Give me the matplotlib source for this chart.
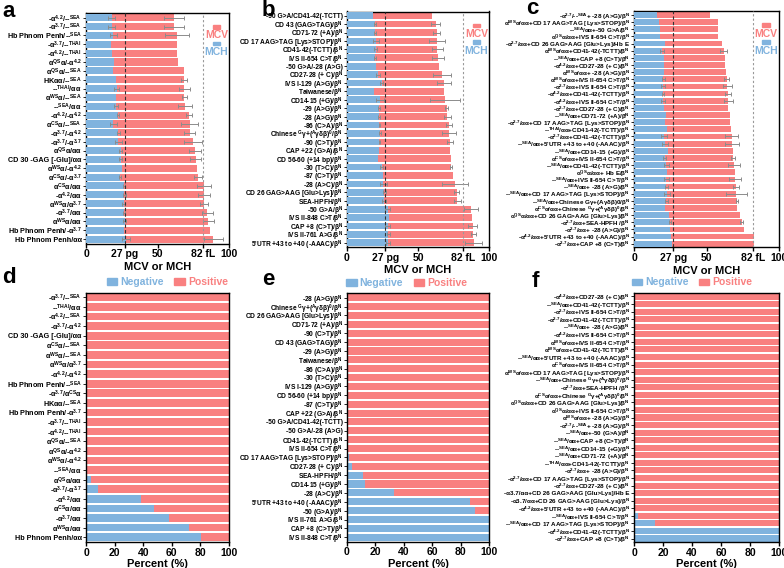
import re
import numpy as np
import matplotlib
matplotlib.use("Agg")
import matplotlib.pyplot as plt
from matplotlib.patches import Patch, Rectangle

plt.rcParams['font.family'] = ['Liberation Sans', 'DejaVu Sans']
plt.rcParams['font.weight'] = 'bold'
plt.rcParams['mathtext.fontset'] = 'custom'
plt.rcParams['mathtext.rm'] = 'Liberation Sans:bold'
plt.rcParams['mathtext.it'] = 'Liberation Sans:bold'
plt.rcParams['mathtext.bf'] = 'Liberation Sans:bold'

RED = '#F98080'
BLUE = '#80B3DE'
GREY = '#8C8C8C'

# ---------------- panel a ----------------
labels_a = ["-α^{4.2}/--^{SEA}", "-α^{3.7}/--^{SEA}", "Hb Phnom Penh/--^{SEA}", "-α^{3.7}/--^{THAI}",
            "-α^{4.2}/--^{THAI}", "α^{QS}α/-α^{4.2}", "α^{QS}α/--^{SEA}", "HKαα/--^{SEA}", "--^{THAI}/αα",
            "α^{WS}α/--^{SEA}", "--^{SEA}/αα", "-α^{4.2}/-α^{4.2}", "α^{CS}α/--^{SEA}", "-α^{3.7}/-α^{4.2}",
            "-α^{3.7}/-α^{3.7}", "α^{QS}α/αα", "CD 30 -GAG [-Glu]/αα", "α^{WS}α/-α^{4.2}", "α^{CS}α/-α^{3.7}",
            "α^{CS}α/αα", "-α^{4.2}/αα", "α^{WS}α/α^{3.7}", "-α^{3.7}/αα", "α^{WS}α/αα",
            "Hb Phnom Penh/-α^{3.7}", "Hb Phnom Penh/αα"]
mcv_a = [61.5, 61.5, 63.4, 63.4, 63.9, 64.6, 68.3, 68.3, 68.8, 68.8, 69.2, 71.8, 72.5, 72.5, 74.6, 76.2,
         76.7, 77.4, 78.3, 82.5, 82.6, 82.5, 84.8, 85.5, 86.7, 89.0]
mcv_err_a = [7, 7, 8.4, 0, 0, 0, 0, 2, 4, 2, 5, 2, 6, 4, 6.3, 4, 4, 0, 3, 5, 4, 3, 4, 4, 0, 6.6]
mch_a = [18.0, 18.0, 19.1, 17.5, 18.4, 19.8, 18.6, 21.0, 21.4, 21.2, 21.2, 22.4, 19.1, 22.6, 22.6, 24.2,
         24.2, 24.9, 23.8, 26.6, 26.8, 26.3, 26.6, 27.0, 26.6, 28.0]
mch_err_a = [2.3, 2.3, 2.5, 0, 0, 0, 0, 0, 1.5, 0, 1.5, 1, 2.5, 1, 2.5, 1, 1, 0, 1, 1, 1, 1, 1, 1, 0, 2.5]

# ---------------- panel b ----------------
labels_b = ["-50 G>A/CD41-42(-TCTT)", "CD 43 (GAG>TAG)/β^{N}", "CD71-72 (+A)/β^{N}",
            "CD 17 AAG>TAG [Lys>STOP]/β^{N}", "CD41-42(-TCTT)/β^{N}", "IVS II-654 C>T/β^{N}",
            "-50 G>A/-28 (A>G)", "CD27-28 (+ C)/β^{N}", "IVS I-129 (A>G)/β^{N}", "Taiwanese/β^{N}",
            "CD14-15 (+G)/β^{N}", "-29 (A>G)/β^{N}", "-28 (A>G)/β^{N}", "-86 (C>A)/β^{N}",
            "Chinese ^{G}γ+(^{A}γδβ)^{0}/β^{N}", "-90 (C>T)/β^{N}", "CAP +22 (G>A)/β^{N}",
            "CD 56-60 (+14 bp)/β^{N}", "-30 (T>C)/β^{N}", "-87 (C>T)/β^{N}", "-28 (A>C)/β^{N}",
            "CD 26 GAG>AAG [Glu>Lys]/β^{N}", "SEA-HPFH/β^{N}", "-50 G>A/β^{N}", "IVS II-848 C>T/β^{N}",
            "CAP +8 (C>T)/β^{N}", "IVS II-761 A>G/β^{N}", "5'UTR +43 to +40 (-AAAC)/β^{N}"]
mcv_b = [59.9, 62.4, 63.1, 63.6, 63.6, 64.1, 64.8, 66.7, 68.3, 68.3, 69.0, 70.2, 70.7, 71.6, 72.1, 72.3,
         72.5, 73.5, 73.2, 74.6, 76.1, 77.2, 77.5, 87.3, 88.0, 88.5, 89.0, 89.4]
mcv_err_b = [0, 3, 2.5, 5.6, 4, 4, 0, 6.3, 5, 0, 10.5, 1, 2.5, 2, 5, 2, 0, 0, 1, 0, 9, 2, 2.5, 5, 0, 3, 2, 6]
mch_b = [18.5, 19.7, 19.7, 20.2, 20.2, 19.7, 20.4, 21.6, 24.4, 19.0, 23.2, 22.5, 22.5, 22.8, 23.2, 22.8,
         22.8, 22.1, 24.4, 25.1, 25.6, 26.3, 26.3, 28.6, 29.8, 28.6, 29.1, 29.1]
mch_err_b = [0, 0.5, 0.5, 2, 1, 1, 0, 1.5, 1, 0, 3, 0.5, 0.5, 0.5, 1, 0.5, 0, 0, 1, 0, 2.5, 1, 1.5, 1.5, 0,
             1.5, 1, 1.5]

# ---------------- panel c ----------------
labels_c = ["-α^{3.7}/--^{SEA}+ -28 (A>G)/β^{N}", "α^{WS}α/αα+CD 17 AAG>TAG [Lys>STOP]/β^{N}",
            "--^{SEA}/αα+-50 G>A/β^{N}", "α^{QS}α/αα+IVS II-654 C>T/β^{N}",
            "-α^{3.7}/αα+CD 26 GAG>AAG [Glu>Lys]/Hb E", "α^{WS}α/αα+CD41-42(-TCTT)/β^{N}",
            "--^{SEA}/αα+CAP +8 (C>T)/β^{N}", "-α^{4.2}/αα+CD27-28 (+ C)/β^{N}",
            "α^{WS}α/αα+ -28 (A>G)/β^{N}", "α^{WS}α/αα+IVS II-654 C>T/β^{N}",
            "-α^{3.7}/αα+IVS II-654 C>T/β^{N}", "-α^{4.2}/αα+CD41-42(-TCTT)/β^{N}",
            "-α^{4.2}/αα+IVS II-654 C>T/β^{N}", "-α^{3.7}/αα+CD27-28 (+ C)/β^{N}",
            "--^{SEA}/αα+CD71-72 (+A)/β^{N}", "-α^{3.7}/αα+CD 17 AAG>TAG [Lys>STOP]/β^{N}",
            "--^{THAI}/αα+CD41-42(-TCTT)/β^{N}", "-α^{3.7}/αα+CD41-42(-TCTT)/β^{N}",
            "--^{SEA}/αα+5'UTR +43 to +40 (-AAAC)/β^{N}", "--^{SEA}/αα+CD14-15 (+G)/β^{N}",
            "α^{CS}α/αα+IVS II-654 C>T/β^{N}", "--^{SEA}/αα+CD41-42(-TCTT)/β^{N}",
            "α^{QS}α/αα+ Hb E/β^{N}", "--^{SEA}/αα+IVS II-654 C>T/β^{N}", "--^{SEA}/αα+ -28 (A>G)/β^{N}",
            "--^{SEA}/αα+CD 17 AAG>TAG [Lys>STOP]/β^{N}", "--^{SEA}/αα+Chinese Gγ+(Aγδβ)0/β^{N}",
            "α^{CS}α/αα+Chinese ^{G}γ+(^{A}γδβ)^{0}/β^{N}", "α^{QS}α/αα+CD 26 GAG>AAG [Glu>Lys]/β^{N}",
            "-α^{3.7}/αα+SEA-HPFH /β^{N}", "-α^{3.7}/αα+ -28 (A>G)/β^{N}",
            "-α^{4.2}/αα+5'UTR +43 to +40 (-AAAC)/β^{N}", "-α^{3.7}/αα+CAP +8 (C>T)/β^{N}"]
mcv_c = [52.4, 57.7, 58.2, 58.2, 60.5, 61.8, 62.8, 62.8, 63.4, 63.9, 64.4, 64.6, 65.1, 65.1, 66.2, 66.2,
         66.9, 67.4, 67.6, 68.2, 68.4, 69.1, 69.6, 69.8, 70.2, 70.6, 71.0, 71.2, 73.0, 74.2, 75.6, 82.6, 83.0]
mcv_err_c = [0, 0, 0, 0, 0, 2.5, 0, 0, 0, 1.5, 3, 2, 3, 0, 0, 0, 0, 4.5, 4.5, 0, 1.5, 4, 0, 4, 2, 7, 1, 0,
             0, 1, 0, 0, 0]
mch_c = [16.1, 17.5, 17.9, 17.9, 21.4, 19.5, 20.9, 20.9, 20.9, 20.2, 19.8, 20.0, 20.2, 20.7, 21.8, 21.4,
         22.5, 20.9, 21.2, 23.5, 21.2, 22.4, 23.0, 22.4, 22.4, 22.8, 22.4, 21.7, 24.0, 24.7, 25.1, 25.8, 26.3]
mch_err_c = [0, 0, 0, 0, 0, 1.5, 0, 0, 0, 1, 1.5, 1, 1.5, 0, 0, 0, 0, 2, 2, 0, 1, 1.5, 0, 1.5, 1, 2, 1, 0,
             0, 0.5, 0, 0, 0]

# ---------------- panel d ----------------
labels_d = ["-α^{3.7}/--^{SEA}", "--^{THAI}/αα", "-α^{4.2}/--^{SEA}", "-α^{3.7}/-α^{4.2}",
            "CD 30 -GAG [-Glu]/αα", "α^{CS}α/--^{SEA}", "α^{WS}α/--^{SEA}", "α^{WS}α/α^{3.7}",
            "-α^{4.2}/-α^{4.2}", "Hb Phnom Penh/--^{SEA}", "-α^{3.7}/α^{CS}α", "HKαα/--^{SEA}",
            "Hb Phnom Penh/-α^{3.7}", "-α^{3.7}/--^{THAI}", "-α^{4.2}/--^{THAI}", "α^{QS}α/--^{SEA}",
            "α^{QS}α/-α^{4.2}", "α^{WS}α/-α^{4.2}", "--^{SEA}/αα", "α^{QS}α/αα", "-α^{3.7}/-α^{3.7}",
            "-α^{4.2}/αα", "α^{CS}α/αα", "-α^{3.7}/αα", "α^{WS}α/αα", "Hb Phnom Penh/αα"]
neg_d = [0, 0, 0, 0, 0, 0, 0, 0, 0, 0, 0, 0, 0, 0, 0, 0, 0, 0, 0, 3.5, 8.7, 38.3, 47.7, 58.2, 72.3, 80.3]

# ---------------- panel e ----------------
labels_e = ["-28 (A>G)/β^{N}", "Chinese ^{G}γ+(^{A}γδβ)^{0}/β^{N}", "CD 26 GAG>AAG [Glu>Lys]/β^{N}",
            "CD71-72 (+A)/β^{N}", "-90 (C>T)/β^{N}", "CD 43 (GAG>TAG)/β^{N}", "-29 (A>G)/β^{N}",
            "Taiwanese/β^{N}", "-86 (C>A)/β^{N}", "-30 (T>C)/β^{N}", "IVS I-129 (A>G)/β^{N}",
            "CD 56-60 (+14 bp)/β^{N}", "-87 (C>T)/β^{N}", "CAP +22 (G>A)/β^{N}", "-50 G>A/CD41-42(-TCTT)",
            "-50 G>A/-28 (A>G)", "CD41-42(-TCTT)/β^{N}", "IVS II-654 C>T/β^{N}",
            "CD 17 AAG>TAG [Lys>STOP]/β^{N}", "CD27-28 (+ C)/β^{N}", "SEA-HPFH/β^{N}", "CD14-15 (+G)/β^{N}",
            "-28 (A>C)/β^{N}", "5'UTR +43 to +40 (-AAAC)/β^{N}", "-50 (G>A)/β^{N}", "IVS II-761 A>G/β^{N}",
            "CAP +8 (C>T)/β^{N}", "IVS II-848 C>T/β^{N}"]
neg_e = [0, 0, 0, 0, 0, 0, 0, 0, 0, 0, 0, 0, 0, 0, 0, 0, 0, 0, 1.2, 3.7, 11.2, 12.4, 33.2, 86.9, 90.0,
         100, 100, 100]

# ---------------- panel f ----------------
labels_f = ["-α^{4.2}/αα+CD27-28 (+ C)/β^{N}", "--^{SEA}/αα+CD41-42(-TCTT)/β^{N}",
            "-α^{3.7}/αα+IVS II-654 C>T/β^{N}", "-α^{3.7}/αα+CD41-42(-TCTT)/β^{N}",
            "--^{SEA}/αα+ -28 (A>G)/β^{N}", "-α^{4.2}/αα+IVS II-654 C>T/β^{N}",
            "α^{WS}α/αα+IVS II-654 C>T/β^{N}", "α^{WS}α/αα+CD41-42(-TCTT)/β^{N}",
            "--^{SEA}/αα+5'UTR +43 to +40 (-AAAC)/β^{N}", "α^{CS}α/αα+IVS II-654 C>T/β^{N}",
            "α^{WS}α/αα+CD 17 AAG>TAG [Lys>STOP]/β^{N}", "--^{SEA}/αα+Chinese ^{G}γ+(^{A}γδβ)^{0}/β^{N}",
            "-α^{3.7}/αα+SEA-HPFH /β^{N}", "α^{CS}α/αα+Chinese ^{G}γ+(^{A}γδβ)^{0}/β^{N}",
            "α^{QS}α/αα+CD 26 GAG>AAG [Glu>Lys]/β^{N}", "α^{QS}α/αα+IVS II-654 C>T/β^{N}",
            "α^{WS}α/αα+ -28 (A>G)/β^{N}", "-α^{3.7}/--^{SEA}+ -28 (A>G)/β^{N}",
            "--^{SEA}/αα+-50 (G>A)/β^{N}", "--^{SEA}/αα+CAP +8 (C>T)/β^{N}",
            "--^{SEA}/αα+CD14-15 (+G)/β^{N}", "--^{SEA}/αα+CD71-72 (+A)/β^{N}",
            "--^{THAI}/αα+CD41-42(-TCTT)/β^{N}", "-α^{3.7}/αα+ -28 (A>G)/β^{N}",
            "-α^{3.7}/αα+CD 17 AAG>TAG [Lys>STOP]/β^{N}", "-α^{3.7}/αα+CD27-28 (+ C)/β^{N}",
            "-α3.7/αα+CD 26 GAG>AAG [Glu>Lys]/Hb E", "-α3.7/αα+CD 26 GAG>AAG [Glu>Lys]/β^{N}",
            "-α^{4.2}/αα+5'UTR +43 to +40 (-AAAC)/β^{N}", "--^{SEA}/αα+IVS II-654 C>T/β^{N}",
            "--^{SEA}/αα+CD 17 AAG>TAG [Lys>STOP]/β^{N}", "-α^{4.2}/αα+CD41-42(-TCTT)/β^{N}",
            "-α^{3.7}/αα+CAP +8 (C>T)/β^{N}"]
neg_f = [0, 0, 0, 0, 0, 0, 0, 0, 0, 0, 0, 0, 0, 0, 0, 0, 0, 0, 0, 0, 0, 0, 0, 0, 0, 0, 0, 0, 0, 2.8, 14.3,
         100, 100]

idx_ticks = [0, 27, 50, 82, 100]
idx_ticklabels = ["0", "27 pg", "50", "82 fL", "100"]
pct_ticks = [0, 20, 40, 60, 80, 100]


def fmt(s):
    return re.sub(r'\^\{([^}]*)\}', lambda m: r'$^{\mathrm{' + m.group(1) + '}}$', s)


W, H = 784, 568
fig = plt.figure(figsize=(W / 100, H / 100), dpi=100)


def px_axes(x0, x1, y0, y1):
    return fig.add_axes([x0 / W, 1 - y1 / H, (x1 - x0) / W, (y1 - y0) / H])


def style_axes(ax, labels, fs):
    n = len(labels)
    ax.set_ylim(n - 0.5, -0.5)
    ax.set_xlim(0, 100)
    ax.set_yticks(np.arange(n))
    ax.set_yticklabels([fmt(l) for l in labels], fontsize=fs, fontweight='bold')
    ax.tick_params(axis='y', length=2, width=0.6, pad=1)
    ax.tick_params(axis='x', length=3, width=1, labelsize=7.5, pad=1)
    for sp in ax.spines.values():
        sp.set_linewidth(1.0)


def index_panel(ax, labels, mcv, mcv_err, mch, mch_err, fs):
    y = np.arange(len(labels))
    mcv = np.array(mcv); mch = np.array(mch)
    ev = np.array(mcv_err); eh = np.array(mch_err)
    ax.barh(y, mcv, height=0.8, color=RED, zorder=2)
    m = ev > 0
    ax.errorbar(mcv[m], y[m], xerr=ev[m], fmt='none', ecolor=GREY, elinewidth=0.7, capsize=1.3,
                capthick=0.7, zorder=3)
    ax.barh(y, mch, height=0.8, color=BLUE, zorder=4)
    m = eh > 0
    ax.errorbar(mch[m], y[m], xerr=eh[m], fmt='none', ecolor=GREY, elinewidth=0.7, capsize=1.3,
                capthick=0.7, zorder=5)
    ax.axvline(27, color='#333333', lw=0.8, ls=(0, (3, 2)), zorder=6)
    ax.axvline(82, color='#999999', lw=0.8, ls=(0, (2, 2)), zorder=6)
    style_axes(ax, labels, fs)
    ax.set_xticks(idx_ticks)
    ax.set_xticklabels(idx_ticklabels, fontweight='bold', fontsize=7.5)
    ax.set_xlabel("MCV or MCH", fontsize=8, fontweight='bold', labelpad=2)
    # legend: patch above its label
    for (yp, yt, col, txt) in [(0.94, 0.905, RED, "MCV"), (0.868, 0.832, BLUE, "MCH")]:
        ax.add_patch(Rectangle((0.885, yp - 0.007), 0.055, 0.016, transform=ax.transAxes,
                               color=col, zorder=7, clip_on=False))
        ax.text(0.912, yt, txt, color=col, fontsize=7.5, fontweight='bold', ha='center',
                va='center', transform=ax.transAxes, zorder=7)


def pct_panel(ax, labels, neg, fs, legx):
    y = np.arange(len(labels))
    neg = np.array(neg)
    ax.barh(y, neg, height=0.8, color=BLUE, zorder=2)
    ax.barh(y, 100 - neg, left=neg, height=0.8, color=RED, zorder=2)
    style_axes(ax, labels, fs)
    ax.set_xticks(pct_ticks)
    ax.set_xticklabels([str(t) for t in pct_ticks], fontweight='bold', fontsize=7.5)
    ax.set_xlabel("Percent (%)", fontsize=8, fontweight='bold', labelpad=1)
    h = [Patch(color=BLUE, label='Negative'), Patch(color=RED, label='Positive')]
    ax.legend(handles=h, loc='lower center', bbox_to_anchor=(legx, 1.0), ncol=2, frameon=False,
              handlelength=1.0, handleheight=0.55, handletextpad=0.3,
              columnspacing=1.0, borderaxespad=0.1, labelcolor=[BLUE, RED],
              prop={'weight': 'bold', 'size': 7.5})


ax_a = px_axes(86, 229, 13.3, 243.5)
index_panel(ax_a, labels_a, mcv_a, mcv_err_a, mch_a, mch_err_a, 5.2)
ax_b = px_axes(347, 489, 11.5, 247)
index_panel(ax_b, labels_b, mcv_b, mcv_err_b, mch_b, mch_err_b, 4.8)
ax_c = px_axes(634, 779, 11.4, 247.3)
index_panel(ax_c, labels_c, mcv_c, mcv_err_c, mch_c, mch_err_c, 4.5)

ax_d = px_axes(86, 229, 292.5, 542)
pct_panel(ax_d, labels_d, neg_d, 5.2, 0.57)
ax_e = px_axes(347, 489, 293.3, 541.7)
pct_panel(ax_e, labels_e, neg_e, 4.8, 0.42)
ax_f = px_axes(634, 779, 292.7, 542.3)
pct_panel(ax_f, labels_f, neg_f, 4.5, 0.40)

for (xp, yp, t) in [(2, 17, 'a'), (262, 16, 'b'), (526, 14, 'c'), (2, 283, 'd'), (262, 285, 'e'),
                    (532, 287, 'f')]:
    fig.text(xp / W, 1 - yp / H, t, fontsize=16, fontweight='bold', va='baseline', ha='left')

fig.savefig("out.png", dpi=100)
